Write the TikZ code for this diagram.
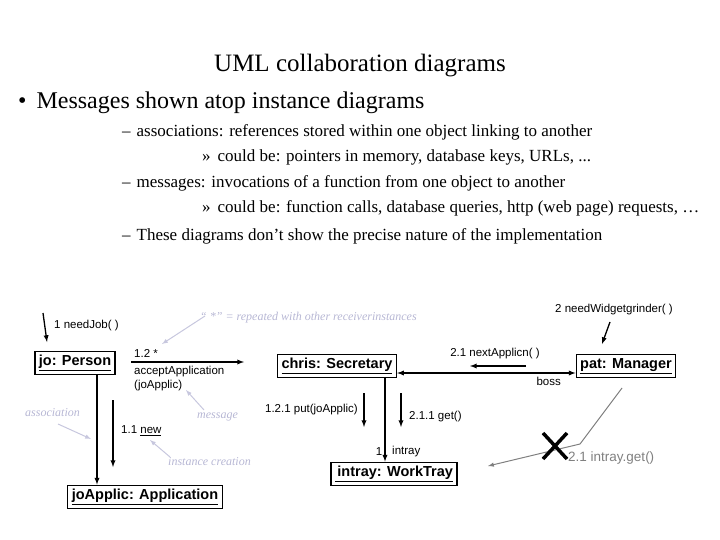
\documentclass[tikz,border=0pt]{standalone}
\usepackage{fontspec}
\setmainfont{Liberation Serif}
\newfontfamily\sans{Liberation Sans}
\begin{document}
\begin{tikzpicture}[x=1pt,y=-1pt,
 obj/.style={draw,line width=1.3pt,inner xsep=4pt,inner ysep=4pt,font=\sans\bfseries\fontsize{14.5}{17}\selectfont},
 lbl/.style={font=\sans\fontsize{11.5}{13.5}\selectfont,inner sep=0pt},
 note/.style={font=\itshape\fontsize{12}{14}\selectfont,text=blue!25!gray!45,inner sep=0pt},
 narr/.style={draw=blue!25!gray!35,line width=1pt,-latex},
 msg/.style={line width=1.3pt,-latex},
 lnk/.style={line width=1.3pt},
 txt/.style={anchor=west,inner sep=0pt,font=\fontsize{17}{20}\selectfont}]
\useasboundingbox (0,0) rectangle (720,540);
\node[font=\fontsize{25}{29}\selectfont] (title) at (360,66) {UML collaboration diagrams};
\node[anchor=west,inner sep=0pt,font=\fontsize{24}{28}\selectfont] (b1) at (18,103) {•\hspace{10pt}Messages shown atop instance diagrams};
\node[txt] (s1) at (122,132) {–\hspace{6pt}associations: references stored within one object linking to another};
\node[txt] (s2) at (202,157) {»\hspace{7pt}could be: pointers in memory, database keys, URLs, ...};
\node[txt] (s3) at (122,183) {–\hspace{6pt}messages: invocations of a function from one object to another};
\node[txt] (s4) at (202,208) {»\hspace{7pt}could be: function calls, database queries, http (web page) requests, …};
\node[txt] (s5) at (122,236) {–\hspace{6pt}These diagrams don't show the precise nature of the implementation};

\node[obj] (jo) at (75,363) {\underline{jo: Person}};
\node[obj] (chris) at (337,366) {\underline{chris: Secretary}};
\node[obj] (pat) at (626,366) {\underline{pat: Manager}};
\node[obj] (intray) at (394,474) {\underline{\,intray: WorkTray}};
\node[obj] (app) at (145,497) {\underline{joApplic: Application}};

% links
\draw[lnk,-latex] (97,0 |- jo.south) -- (97,0 |- app.north);
\draw[lnk,latex-latex] (chris.east |- 0,373) -- (pat.west |- 0,373);
\draw[lnk,-latex] (385,0 |- chris.south) -- (385,0 |- intray.north);
\node[lbl] (one) at (379,452) {1};
\node[lbl,anchor=west] (intr) at (392,452) {intray};
\node[lbl,anchor=east] (boss) at (561,381) {boss};

% messages
\coordinate (n1a) at (43,313); \coordinate (n1b) at (47,342);
\draw[msg] (n1a) -- (n1b);
\node[lbl,anchor=west] (n1) at (54,326) {1 needJob( )};
\coordinate (m12a) at (131,362); \coordinate (m12b) at (244,362);
\draw[msg] (m12a) -- (m12b);
\node[lbl,anchor=west] (m12) at (134,353) {1.2 *};
\node[lbl,anchor=north west,align=left] (m12t) at (134,366) {acceptApplication\\(joApplic)};
\coordinate (m11a) at (113,400); \coordinate (m11b) at (113,467);
\draw[msg] (m11a) -- (m11b);
\node[lbl,anchor=west] (m11) at (121,431) {1.1 \underline{new}};
\coordinate (m21a) at (526,366); \coordinate (m21b) at (470,366);
\draw[msg] (m21a) -- (m21b);
\node[lbl] (m21) at (495,354) {2.1 nextApplicn( )};
\coordinate (p1a) at (364,393); \coordinate (p1b) at (364,427);
\draw[msg] (p1a) -- (p1b);
\node[lbl,anchor=east] (p1) at (358,410) {1.2.1 put(joApplic)};
\coordinate (g1a) at (401,393); \coordinate (g1b) at (401,427);
\draw[msg] (g1a) -- (g1b);
\node[lbl,anchor=west] (g1) at (409,417) {2.1.1 get()};
\coordinate (w2a) at (610,322); \coordinate (w2b) at (602,344);
\draw[msg] (w2a) -- (w2b);
\node[lbl] (w2) at (614,310) {2 needWidgetgrinder( )};

% crossed-out path
\coordinate (c1) at (622,388); \coordinate (c2) at (580,444); \coordinate (c3) at (488,466);
\draw[gray,line width=1pt,-latex] (c1) -- (c2) -- (c3);
\draw[line width=3.5pt] (543,433) -- (567,459) (567,433) -- (543,459);
\node[lbl,anchor=west,text=gray,font=\sans\fontsize{13.5}{15}\selectfont] (ig) at (568,458) {2.1 intray.get()};

% notes
\node[note,anchor=west] (nr) at (200,318) {“ *” = repeated with other receiverinstances};
\coordinate (nra) at (205,316); \coordinate (nrb) at (162,344);
\draw[narr] (nra) -- (nrb);
\node[note,anchor=west] (na) at (25,413) {association};
\coordinate (naa) at (58,424); \coordinate (nab) at (91,439);
\draw[narr] (naa) -- (nab);
\node[note,anchor=west] (nm) at (197,417) {message};
\coordinate (nma) at (204,410); \coordinate (nmb) at (186,390);
\draw[narr] (nma) -- (nmb);
\node[note,anchor=west] (ni) at (168,462) {instance creation};
\coordinate (nia) at (170,457); \coordinate (nib) at (150,440);
\draw[narr] (nia) -- (nib);
\end{tikzpicture}
\end{document}
